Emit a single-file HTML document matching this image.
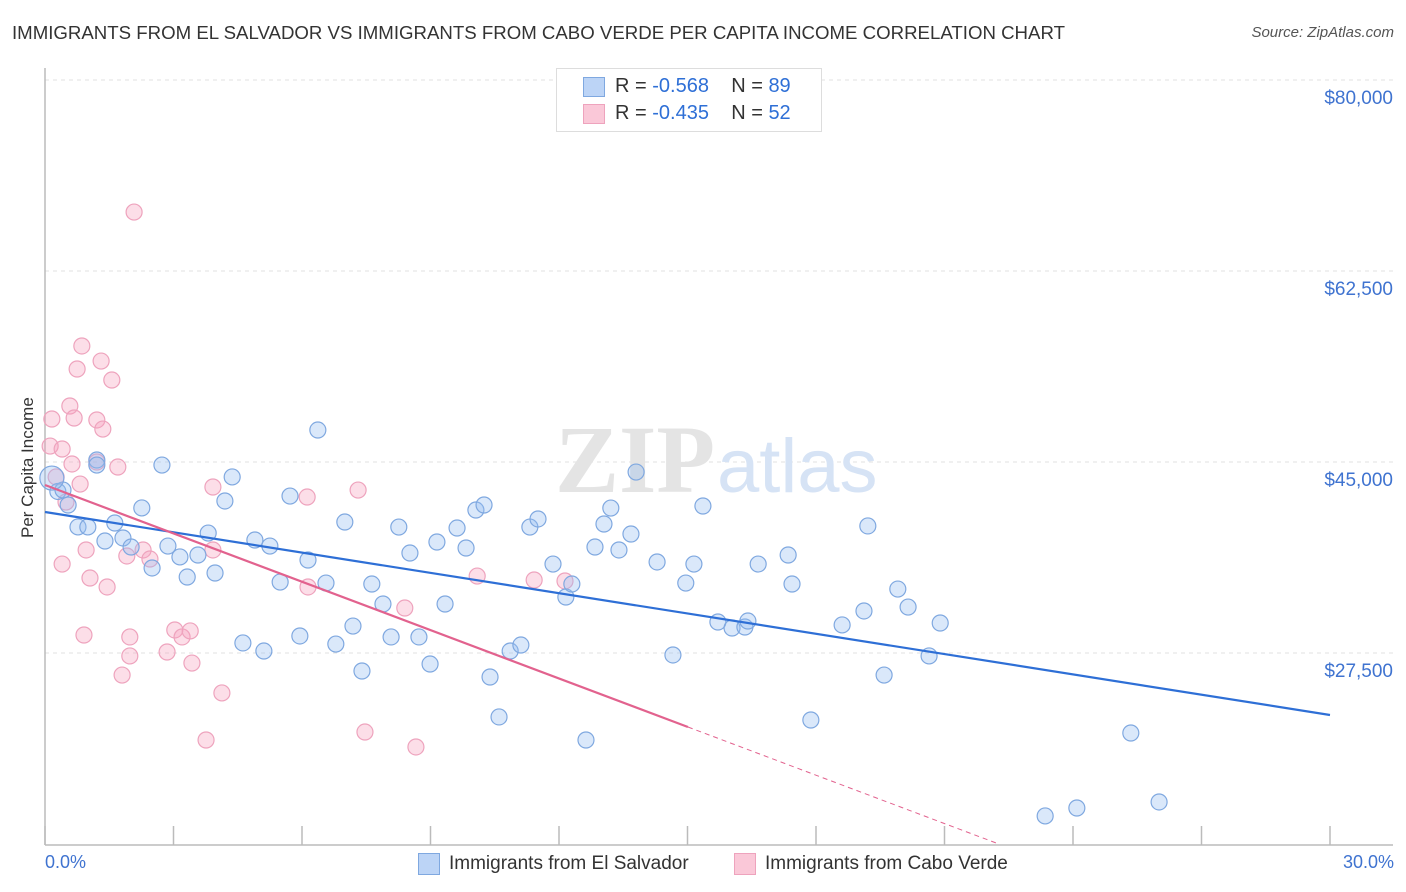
<!DOCTYPE html>
<html><head><meta charset="utf-8"><style>
body{margin:0;background:#fff;font-family:"Liberation Sans",sans-serif;}
#wrap{position:relative;width:1406px;height:892px;overflow:hidden;}
.t{position:absolute;white-space:nowrap;}
</style></head><body>
<div id="wrap">
<div class="t" style="left:12px;top:22px;font-size:18.65px;color:#333;">IMMIGRANTS FROM EL SALVADOR VS IMMIGRANTS FROM CABO VERDE PER CAPITA INCOME CORRELATION CHART</div>
<div class="t" style="right:12px;top:24px;font-size:15px;color:#555;font-style:italic;">Source: ZipAtlas.com</div>
<svg id="svg" width="1406" height="892" style="position:absolute;left:0;top:0;"></svg>
</div>
<script>
const blueX=[0.30,0.42,0.54,0.77,1.00,1.21,1.21,1.40,1.63,1.82,2.01,2.26,2.50,2.73,2.87,3.15,3.32,3.57,3.81,3.97,4.20,4.37,4.62,4.90,5.11,5.25,5.49,5.72,5.95,6.14,6.37,6.56,6.79,7.00,7.19,7.40,7.63,7.89,8.08,8.26,8.52,8.73,8.99,9.15,9.34,9.62,9.83,10.06,10.25,10.39,10.60,10.86,11.11,11.32,11.51,11.86,12.16,12.30,12.63,12.84,13.05,13.21,13.40,13.68,13.80,14.29,14.66,14.96,15.15,15.36,15.71,16.04,16.34,16.41,16.65,17.35,17.44,17.88,18.61,19.12,19.21,19.59,19.91,20.15,20.64,20.90,23.35,24.09,25.35,26.01,0.16];
const blueY=[42300,42430,41060,39050,39050,45180,44720,37760,39410,38040,37210,40790,35290,44720,37300,36300,34460,36480,38490,34830,41430,43630,28420,37850,27680,37300,34000,41880,29060,36020,47930,33910,28320,39500,29970,25850,33820,31990,28970,39040,36660,28970,26490,37670,31990,38950,37120,40600,41060,25300,21640,27680,28230,39040,39780,35650,32630,33820,19530,37210,39320,40780,36940,38400,44080,35840,27320,33910,35650,40970,30340,29790,29880,30430,35650,36480,33820,21360,30070,31350,39140,25480,33360,31710,27230,30250,12570,13300,20170,13850,43530];
const pinkX=[0.12,0.16,0.26,0.40,0.49,0.58,0.68,0.63,0.75,0.82,0.86,0.91,0.96,1.05,1.21,1.21,1.31,1.35,1.45,1.56,1.70,1.80,1.91,1.98,1.98,2.08,2.29,2.45,2.85,3.03,3.20,3.39,3.43,3.76,3.92,3.92,4.13,6.12,6.14,7.31,7.47,8.40,8.66,10.09,11.42,12.14,0.40];
const pinkY=[46460,48940,43630,46190,41330,50130,49030,44820,53520,42980,55630,29150,36940,34370,48850,45000,54250,48020,33550,52510,44540,25480,36390,28970,27230,67900,36940,36110,27590,29610,28970,29520,26580,19530,42710,36940,23840,41790,33550,42430,20260,31620,18890,34550,34190,34100,35650];
const blueLine=[40420,21820];
const pinkLine=[42890,20720,15.01];
const yTicks=[27500,45000,62500,80000];
const yTickLabels=["$27,500","$45,000","$62,500","$80,000"];
const xTicks=[0,3,6,9,12,15,18,21,24,27,30];

const X=v=>45+v/30*1285;
const Y=v=>653-(v-27500)/17500*191;
const svg=document.getElementById('svg');
const NS='http://www.w3.org/2000/svg';
function mk(tag,attrs,parent){const e=document.createElementNS(NS,tag);for(const k in attrs)e.setAttribute(k,attrs[k]);(parent||svg).appendChild(e);return e;}

yTicks.forEach((v,i)=>{
  const g=mk('line',{x1:45,x2:1393,y1:Y(v),y2:Y(v),stroke:'#e2e2e2','stroke-dasharray':'4,4'});
  
  
  const t=mk('text',{x:1393,y:Y(v)+24,'text-anchor':'end','font-size':19,fill:'#3f73d0'});
  t.textContent=yTickLabels[i];
  
  
});
const ax=mk('line',{x1:45,x2:45,y1:68,y2:845,stroke:'#bbb','stroke-width':1.5});


const bx=mk('line',{x1:45,x2:1393,y1:845,y2:845,stroke:'#bbb','stroke-width':1.5});


xTicks.forEach(v=>{
  const l=mk('line',{x1:X(v),x2:X(v),y1:826,y2:845,stroke:'#bbb','stroke-width':1.5});
  
  
});
const wm=mk('text',{x:555,y:492,'font-size':96,fill:'#e4e4e4','font-family':'Liberation Serif',"font-weight":"bold"});
wm.textContent='ZIP';


const wm2=mk('text',{x:717,y:492,'font-size':76,fill:'#d6e3f5'});
wm2.textContent='atlas';



pinkX.forEach((v,i)=>{
  const c=mk('circle',{cx:X(v),cy:Y(pinkY[i]),r:8,fill:'rgba(245,160,190,0.35)',stroke:'#eea3bd','stroke-width':1.2});
  
  
});
blueX.forEach((v,i)=>{
  const c=mk('circle',{cx:X(v),cy:Y(blueY[i]),r:i==blueX.length-1?12:8,fill:'rgba(150,190,240,0.35)',stroke:'#7fa8e0','stroke-width':1.2});
  
  
});
const bl=mk('line',{x1:X(0),y1:Y(blueLine[0]),x2:X(30),y2:Y(blueLine[1]),stroke:'#2e6fd6','stroke-width':2.2});


const slope=(pinkLine[1]-pinkLine[0])/pinkLine[2];
const pl=mk('line',{x1:X(0),y1:Y(pinkLine[0]),x2:X(pinkLine[2]),y2:Y(pinkLine[1]),stroke:'#e2628e','stroke-width':2.2});


const endX=Math.min(30,(10100-pinkLine[0])/slope);
const pd=mk('line',{x1:X(pinkLine[2]),y1:Y(pinkLine[1]),x2:X(endX),y2:Y(pinkLine[0]+slope*endX),stroke:'#e2628e','stroke-width':1,'stroke-dasharray':'5,4'});


</script>
<div class="t" style="left:18px;top:538px;transform:rotate(-90deg);transform-origin:0 0;font-size:17px;color:#333;">Per Capita Income</div>
<div class="t" style="left:45px;top:852px;font-size:18px;color:#3f73d0;">0.0%</div>
<div class="t" style="right:12px;top:852px;font-size:18px;color:#3f73d0;">30.0%</div>
<div style="position:absolute;left:556px;top:68px;width:264px;height:62px;border:1px solid #ddd;background:#fff;">
 <div class="t" style="left:26px;top:8px;width:20px;height:18px;background:#bcd4f6;border:1px solid #7fa8e0;"></div>
 <div class="t" style="left:58px;top:6px;font-size:20px;color:#333;">R = <span style="color:#2e6fd6">-0.568</span>&nbsp;&nbsp;&nbsp; N = <span style="color:#2e6fd6">89</span></div>
 <div class="t" style="left:26px;top:35px;width:20px;height:18px;background:#fac8d8;border:1px solid #eea3bd;"></div>
 <div class="t" style="left:58px;top:33px;font-size:20px;color:#333;">R = <span style="color:#2e6fd6">-0.435</span>&nbsp;&nbsp;&nbsp; N = <span style="color:#2e6fd6">52</span></div>
</div>
<div class="t" style="left:418px;top:853px;width:20px;height:20px;background:#bcd4f6;border:1px solid #7fa8e0;"></div>
<div class="t" style="left:449px;top:853px;font-size:19px;color:#333;">Immigrants from El Salvador</div>
<div class="t" style="left:734px;top:853px;width:20px;height:20px;background:#fac8d8;border:1px solid #eea3bd;"></div>
<div class="t" style="left:765px;top:853px;font-size:19px;color:#333;">Immigrants from Cabo Verde</div>
</body></html>
